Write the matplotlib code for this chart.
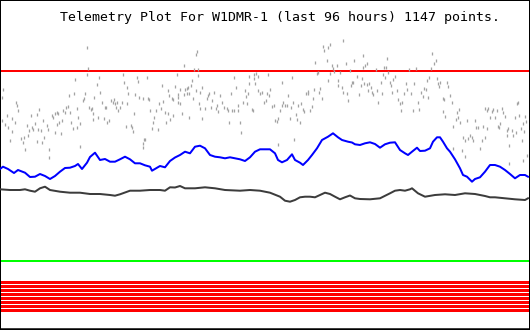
import matplotlib
matplotlib.use("Agg")
import matplotlib.pyplot as plt

# ---------------- data (plot units: time 0-530, level 0-330) ----------------
title_text = "Telemetry Plot For W1DMR-1 (last 96 hours) 1147 points."

upper_limit = 259
lower_limit = 69
alarm_levels = [48.5, 44.5, 40.5, 36.5, 32.5, 28.5, 24.5, 20.5]

blue_t = [0, 3, 8, 14, 18, 25, 30, 35, 40, 45, 50, 55, 60, 65, 70, 75, 78, 82, 87, 90,
          95, 100, 105, 110, 115, 120, 125, 130, 135, 140, 145, 150, 152, 160, 165, 170,
          175, 180, 185, 190, 195, 200, 205, 210, 215, 220, 225, 230, 235, 240, 245, 250,
          255, 260, 265, 270, 275, 278, 282, 287, 292, 295, 300, 303, 308, 312, 317, 322,
          328, 333, 338, 342, 348, 352, 355, 360, 365, 370, 375, 380, 385, 390, 395, 400,
          405, 408, 412, 417, 420, 425, 430, 433, 437, 440, 443, 447, 450, 455, 460, 463,
          467, 472, 475, 480, 485, 490, 495, 500, 505, 510, 515, 520, 525, 528]
blue_v = [161, 163.3, 161, 157, 160, 157.3, 153, 153.3, 156, 154, 151, 154, 158.3, 162,
          162.3, 164, 166, 161, 167.3, 173, 177.3, 170, 171, 168.3, 168.3, 170.7, 173.3,
          170.7, 166.7, 166.7, 164.7, 163.3, 159.3, 164, 162.7, 169, 172.5, 175, 178.3,
          176.7, 183.3, 184.3, 181.7, 175, 173.3, 172.7, 171.7, 172.7, 171.7, 170.7, 169,
          172.7, 178.3, 180.7, 180.7, 180.7, 176.7, 170, 167.7, 170, 175.7, 170, 167.3,
          165, 170, 175, 181.7, 190, 193.3, 196.7, 192.7, 190, 188.3, 187.5, 185.7, 185,
          186.7, 187.7, 186, 182.3, 185.7, 187.3, 187.7, 180, 176.7, 175, 178.3, 182.3,
          179, 179.3, 181.7, 188.3, 192.7, 192.7, 188.3, 181.7, 178.3, 170.7, 161.7, 155,
          153.3, 148.3, 151, 152.7, 158.3, 165, 165, 163.3, 160, 156, 151.7, 155, 155, 153.3]

black_t = [0, 10, 20, 25, 30, 35, 40, 45, 50, 60, 70, 80, 90, 100, 110, 115, 120, 130,
           140, 150, 160, 165, 170, 175, 180, 185, 195, 205, 215, 225, 240, 250, 260, 270,
           280, 285, 290, 295, 300, 305, 310, 315, 320, 325, 330, 335, 340, 345, 350, 355,
           360, 370, 380, 390, 395, 400, 405, 410, 412, 418, 425, 435, 445, 455, 465, 475,
           485, 490, 495, 505, 515, 525, 528]
black_v = [140.7, 140, 140, 140.7, 139.3, 138.3, 141.7, 143.3, 140, 138.3, 137.3, 137.3,
           136, 136, 135, 134.3, 135.7, 139.3, 139.3, 140, 140, 139.3, 142.7, 142.5, 144,
           141.7, 141.7, 142.7, 141.7, 140, 139.3, 140, 139.3, 137.3, 133.3, 129.3, 128.3,
           130, 132.7, 133.3, 133.3, 132.7, 135, 137.3, 136, 133.3, 130.7, 132.7, 134.5,
           131.7, 131, 130.7, 131.7, 136.7, 139.3, 140, 139.3, 140.7, 141.7, 136.7, 133.3,
           135, 135.7, 135, 136.7, 136, 134, 132.7, 132.7, 131.7, 130.7, 130, 131.7]

gray_points = [
    (87, 283), (88, 262), (87, 256), (3, 241), (2, 233), (16, 228), (17, 225), (18, 220),
    (7, 215), (2, 210), (5, 206), (12, 212), (15, 208), (8, 203), (12, 199), (10, 190),
    (21, 192), (23, 188), (24, 193), (25, 181), (27, 205), (29, 200), (31, 215), (32, 203),
    (33, 201), (28, 195), (35, 207), (37, 216), (39, 221), (38, 201), (41, 200), (37, 189),
    (42, 188), (43, 210), (44, 193), (47, 205), (48, 201), (49, 181), (49, 173), (52, 215),
    (53, 213), (55, 217), (57, 218), (58, 217), (55, 198), (57, 206), (59, 208), (61, 197),
    (62, 210), (63, 220), (65, 218), (66, 223), (68, 224), (70, 218), (71, 208), (73, 202),
    (69, 235), (74, 237), (75, 251), (77, 222), (78, 213), (77, 203), (80, 184), (80, 207),
    (83, 230), (84, 232), (85, 237), (89, 223), (91, 221), (92, 222), (93, 217), (93, 211),
    (94, 233), (97, 246), (98, 213), (99, 253), (100, 238), (102, 228), (104, 212), (105, 223),
    (106, 223), (107, 208), (109, 210), (111, 230), (113, 228), (114, 231), (115, 227),
    (116, 223), (117, 228), (118, 220), (120, 223), (122, 228), (123, 256), (124, 248),
    (127, 243), (128, 237), (127, 227), (126, 204), (131, 205), (132, 203), (133, 199),
    (134, 217), (135, 236), (137, 253), (138, 249), (139, 233), (143, 232), (144, 191),
    (145, 191), (143, 187), (143, 183), (147, 253), (148, 232), (149, 231), (150, 220),
    (152, 202), (153, 208), (154, 213), (156, 220), (158, 201), (159, 227), (161, 222),
    (162, 245), (163, 229), (165, 218), (166, 208), (168, 217), (168, 240), (169, 235),
    (170, 211), (172, 232), (173, 215), (173, 231), (175, 244), (177, 256), (178, 233),
    (197, 279), (196, 276), (184, 265), (194, 261), (198, 261), (198, 255), (234, 253),
    (249, 254), (254, 256), (258, 254), (268, 256), (180, 241), (178, 236), (185, 241),
    (187, 242), (188, 243), (192, 250), (191, 245), (184, 236), (187, 237), (189, 237),
    (178, 228), (180, 227), (182, 217), (189, 213), (193, 232), (196, 240), (200, 238),
    (202, 243), (199, 227), (200, 222), (202, 212), (205, 222), (207, 232), (208, 235),
    (209, 237), (211, 223), (212, 230), (214, 238), (216, 222), (218, 219), (217, 225),
    (220, 235), (222, 228), (224, 223), (227, 222), (228, 220), (229, 208), (231, 237),
    (232, 220), (234, 220), (236, 243), (238, 220), (238, 225), (240, 208), (241, 198),
    (243, 228), (245, 240), (246, 234), (247, 227), (248, 237), (249, 247), (252, 221),
    (253, 220), (254, 252), (255, 247), (256, 257), (258, 240), (260, 237), (262, 238),
    (264, 228), (266, 230), (267, 237), (270, 241), (269, 235), (272, 224), (274, 225),
    (275, 210), (277, 209), (278, 212), (278, 186), (280, 220), (282, 225), (282, 248),
    (283, 228), (285, 225), (287, 225), (288, 235), (290, 212), (291, 223), (292, 253),
    (293, 228), (294, 191), (296, 216), (297, 211), (298, 225), (300, 208), (301, 227),
    (303, 221), (304, 219), (306, 237), (308, 237), (308, 239), (310, 220), (312, 224),
    (313, 232), (314, 241), (315, 268), (317, 257), (318, 258), (319, 238), (320, 242),
    (322, 232), (323, 284), (324, 280), (327, 270), (328, 283), (330, 286), (332, 265),
    (333, 262), (334, 259), (337, 265), (338, 250), (338, 245), (340, 258), (342, 243),
    (343, 290), (343, 238), (346, 267), (347, 237), (348, 230), (350, 260), (351, 245),
    (352, 248), (353, 248), (330, 257), (328, 250),
    (363, 275), (354, 270), (363, 263), (365, 265), (367, 267), (376, 261), (384, 263),
    (387, 272), (386, 263), (388, 258), (383, 256), (357, 254), (362, 252), (361, 245),
    (364, 247), (367, 246), (369, 247), (371, 243), (372, 238), (368, 240), (359, 236),
    (373, 236), (377, 240), (378, 228), (381, 248), (382, 237), (385, 253), (390, 248),
    (391, 245), (392, 238), (393, 251), (395, 254), (397, 240), (398, 231), (400, 227),
    (401, 220), (402, 228), (404, 237), (406, 247), (407, 241), (409, 261), (411, 237),
    (413, 220), (414, 247), (416, 262), (418, 228), (419, 221), (421, 238), (423, 234),
    (424, 242), (426, 241), (427, 250), (429, 253), (428, 233), (431, 262), (432, 277),
    (434, 267), (436, 270), (437, 252), (438, 247), (440, 248), (439, 244), (443, 232),
    (444, 231), (447, 248), (448, 244), (450, 235), (452, 228), (443, 219), (445, 214),
    (453, 204), (453, 182), (457, 218), (459, 221), (456, 211), (458, 213), (460, 208),
    (462, 180), (465, 174), (463, 193), (465, 190), (467, 210), (468, 192), (470, 195),
    (472, 193), (473, 190), (475, 210), (476, 203), (478, 203), (480, 182), (482, 190),
    (483, 204), (485, 193), (488, 222), (487, 220), (490, 213), (492, 219), (493, 221),
    (495, 213), (497, 220), (498, 204), (499, 203), (502, 222), (503, 218), (505, 214),
    (507, 195), (508, 202), (509, 185), (512, 200), (513, 195), (515, 213), (516, 198),
    (517, 227), (518, 228), (519, 215), (521, 202), (522, 190), (523, 207), (524, 199),
    (525, 214), (526, 209), (527, 175), (523, 170), (509, 167), (485, 222), (487, 202),
    (500, 207), (507, 200),
]
gray_t = [p[0] for p in gray_points]
gray_v = [p[1] for p in gray_points]

# ---------------- drawing ----------------
PX = 72.0 / 100.0  # points per pixel at dpi 100

fig = plt.figure(figsize=(5.3, 3.3), dpi=100)
fig.patch.set_facecolor("white")
ax = fig.add_axes([0, 0, 1, 1])
ax.set_xlim(0, 530)
ax.set_ylim(0, 330)
ax.set_xticks([])
ax.set_yticks([])
ax.set_facecolor("white")
for side, w in (("left", 2), ("top", 2), ("right", 2), ("bottom", 3.5)):
    ax.spines[side].set_color("black")
    ax.spines[side].set_linewidth(w * PX)

ax.axhline(upper_limit, color="#ff0000", lw=2 * PX, zorder=1)
ax.axhline(lower_limit, color="#00ff00", lw=2 * PX, zorder=1)
for lvl in alarm_levels:
    ax.axhline(lvl, color="#ff0000", lw=3 * PX, zorder=1)

ax.plot(gray_t, gray_v, linestyle="none", marker="|", markersize=3 * PX,
        markeredgewidth=1.3 * PX, color="#a3a3a3", zorder=2)

ax.plot(black_t, black_v, color="#3c3c3c", lw=2 * PX, zorder=3)
ax.plot(blue_t, blue_v, color="#0000ff", lw=2 * PX, zorder=3)

ax.text(60, 308.5, title_text, family="DejaVu Sans Mono", fontsize=9.55,
        color="black", va="baseline", ha="left", zorder=4)

fig.savefig("out.png", dpi=100, facecolor="white")
